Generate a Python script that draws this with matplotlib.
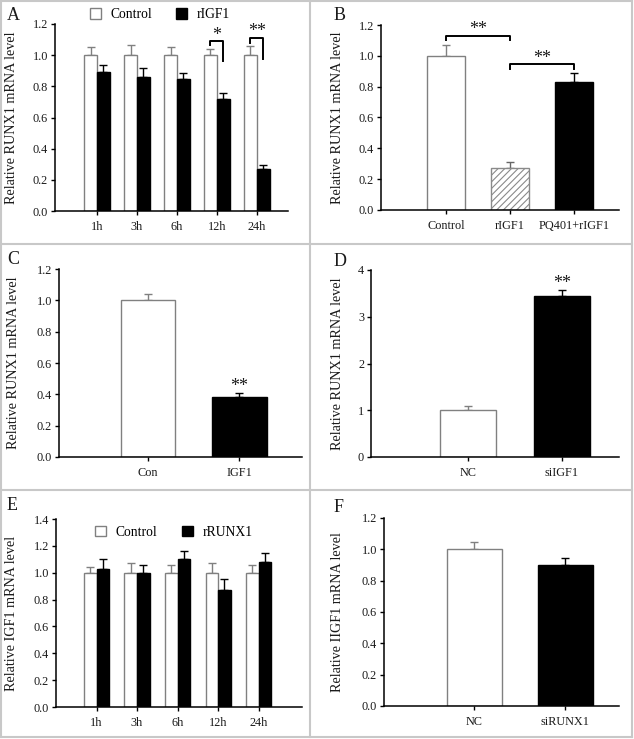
import numpy as np
import matplotlib
matplotlib.use('Agg')
import matplotlib.pyplot as plt
from matplotlib.patches import Patch
from matplotlib.lines import Line2D

plt.rcParams['font.family'] = ['Liberation Serif', 'DejaVu Serif']
plt.rcParams['hatch.linewidth'] = 0.8
plt.rcParams['hatch.color'] = '#8a8a8a'

# ---- data ----
time_labels = ['1h', '3h', '6h', '12h', '24h']

a_control = [1.0, 1.0, 1.0, 1.0, 1.0]
a_control_err = [0.055, 0.065, 0.055, 0.04, 0.06]
a_rigf1 = [0.89, 0.86, 0.85, 0.72, 0.27]
a_rigf1_err = [0.05, 0.055, 0.035, 0.035, 0.025]

b_labels = ['Control', 'rIGF1', 'PQ401+rIGF1']
b_values = [1.0, 0.27, 0.83]
b_err = [0.07, 0.04, 0.06]

c_labels = ['Con', 'IGF1']
c_values = [1.0, 0.38]
c_err = [0.04, 0.03]

d_labels = ['NC', 'siIGF1']
d_values = [1.0, 3.44]
d_err = [0.09, 0.13]

e_control = [1.0, 1.0, 1.0, 1.0, 1.0]
e_control_err = [0.045, 0.07, 0.06, 0.075, 0.055]
e_rrunx1 = [1.025, 0.995, 1.105, 0.875, 1.08]
e_rrunx1_err = [0.08, 0.06, 0.055, 0.08, 0.07]

f_labels = ['NC', 'siRUNX1']
f_values = [1.0, 0.90]
f_err = [0.05, 0.045]

W, H = 634, 739
fig = plt.figure(figsize=(W / 100, H / 100), dpi=100)

GRAY = '#808080'
TXT = '#1a1a1a'
STAR = 13


def make_ax(left, right, top, bottom):
    return fig.add_axes([left / W, 1 - bottom / H, (right - left) / W, (bottom - top) / H])


def style(ax, ylim, yticks, fmt, label, label_off, xlim):
    ax.set_xlim(*xlim)
    ax.set_ylim(*ylim)
    ax.set_yticks(yticks)
    ax.set_yticklabels([fmt.format(t) for t in yticks], fontsize=8.8, color=TXT)
    for s in ['top', 'right']:
        ax.spines[s].set_visible(False)
    for s in ['left', 'bottom']:
        ax.spines[s].set_linewidth(1.1)
    ax.tick_params(axis='y', direction='out', length=3, width=1, pad=2)
    ax.tick_params(axis='x', direction='out', length=3, width=1, pad=4, labelsize=8.8, labelcolor=TXT)
    ax.set_ylabel(label, fontsize=10.2, color=TXT)
    bbox = ax.get_position()
    ax.yaxis.set_label_coords(-label_off / (bbox.width * W), 0.5)


def ebar(ax, x, y, e, color):
    ax.errorbar(x, y, yerr=[[0] * len(e), e], fmt='none', ecolor=color,
                elinewidth=1, capsize=2.6, capthick=1, zorder=1)


def bracket(ax, x1, x2, y, y1, y2, stars, ty):
    ax.plot([x1, x1, x2, x2], [y1, y, y, y2], color='black', lw=1.4, clip_on=False)
    ax.text((x1 + x2) / 2, ty, stars, ha='center', va='center', fontsize=STAR, color=TXT)


# ---- A ----
ax = make_ax(55, 288, 24, 211)
g = np.arange(1, 6)
bw = 0.32
ebar(ax, g - bw / 2, a_control, a_control_err, GRAY)
ebar(ax, g + bw / 2, a_rigf1, a_rigf1_err, 'black')
ax.bar(g - bw / 2, a_control, bw, color='white', edgecolor=GRAY, lw=1, zorder=2)
ax.bar(g + bw / 2, a_rigf1, bw, color='black', edgecolor='black', lw=1, zorder=2)
ax.set_xticks(g)
ax.set_xticklabels(time_labels)
style(ax, (0, 1.2), np.arange(0, 1.21, 0.2), '{:.1f}', 'Relative RUNX1 mRNA level', 37, (-0.05, 5.78))
bracket(ax, 4 - bw / 2, 4 + bw / 2, 1.09, 1.065, 0.96, '*', 1.125)
bracket(ax, 5 - bw / 2, 5 + bw / 2, 1.11, 1.08, 0.975, '**', 1.15)
handles = [Patch(facecolor='white', edgecolor=GRAY, lw=1, label='Control'),
           Patch(facecolor='black', edgecolor='black', label='rIGF1')]
ax.legend(handles=handles, loc='center', bbox_to_anchor=(0.45, 1.05), ncol=2, frameon=False,
          fontsize=9.8, handlelength=0.8, handleheight=0.8, handletextpad=0.7, columnspacing=1.8)

# ---- B ----
ax = make_ax(381, 619, 25, 210)
xb = np.arange(1, 4)
ebar(ax, xb[:1], b_values[:1], b_err[:1], GRAY)
ebar(ax, xb[1:2], b_values[1:2], b_err[1:2], '#666666')
ebar(ax, xb[2:], b_values[2:], b_err[2:], 'black')
ax.bar(xb[0], b_values[0], 0.6, color='white', edgecolor=GRAY, lw=1, zorder=2)
ax.bar(xb[1], b_values[1], 0.6, color='white', edgecolor='#8a8a8a', hatch='/////', lw=1, zorder=2)
ax.bar(xb[2], b_values[2], 0.6, color='black', edgecolor='black', lw=1, zorder=2)
ax.set_xticks(xb)
ax.set_xticklabels(b_labels)
style(ax, (0, 1.2), np.arange(0, 1.21, 0.2), '{:.1f}', 'Relative RUNX1 mRNA level', 37, (-0.016, 3.70))
bracket(ax, 1, 2, 1.13, 1.10, 1.10, '**', 1.17)
bracket(ax, 2, 3, 0.95, 0.915, 0.915, '**', 0.985)

# ---- C ----
ax = make_ax(59, 302, 269, 457)
xc = np.arange(1, 3)
ebar(ax, xc[:1], c_values[:1], c_err[:1], GRAY)
ebar(ax, xc[1:], c_values[1:], c_err[1:], 'black')
ax.bar(xc[0], c_values[0], 0.6, color='white', edgecolor=GRAY, lw=1, zorder=2)
ax.bar(xc[1], c_values[1], 0.6, color='black', edgecolor='black', lw=1, zorder=2)
ax.set_xticks(xc)
ax.set_xticklabels(c_labels)
style(ax, (0, 1.2), np.arange(0, 1.21, 0.2), '{:.1f}', 'Relative RUNX1 mRNA level', 39, (0.02, 2.69))
ax.text(2, 0.45, '**', ha='center', va='center', fontsize=STAR, color=TXT)

# ---- D ----
ax = make_ax(371, 619, 270, 457)
ebar(ax, xc[:1], d_values[:1], d_err[:1], GRAY)
ebar(ax, xc[1:], d_values[1:], d_err[1:], 'black')
ax.bar(xc[0], d_values[0], 0.6, color='white', edgecolor=GRAY, lw=1, zorder=2)
ax.bar(xc[1], d_values[1], 0.6, color='black', edgecolor='black', lw=1, zorder=2)
ax.set_xticks(xc)
ax.set_xticklabels(d_labels)
style(ax, (0, 4), np.arange(0, 5), '{:d}', 'Relative RUNX1 mRNA level', 27, (-0.03, 2.61))
ax.text(2, 3.71, '**', ha='center', va='center', fontsize=STAR, color=TXT)

# ---- E ----
ax = make_ax(56, 302, 519, 707)
bw = 0.31
ebar(ax, g - bw / 2, e_control, e_control_err, GRAY)
ebar(ax, g + bw / 2, e_rrunx1, e_rrunx1_err, 'black')
ax.bar(g - bw / 2, e_control, bw, color='white', edgecolor=GRAY, lw=1, zorder=2)
ax.bar(g + bw / 2, e_rrunx1, bw, color='black', edgecolor='black', lw=1, zorder=2)
ax.set_xticks(g)
ax.set_xticklabels(time_labels)
style(ax, (0, 1.4), np.arange(0, 1.41, 0.2), '{:.1f}', 'Relative IGF1 mRNA level', 38, (0, 6.07))
handles = [Patch(facecolor='white', edgecolor=GRAY, lw=1, label='Control'),
           Patch(facecolor='black', edgecolor='black', label='rRUNX1')]
ax.legend(handles=handles, loc='center', bbox_to_anchor=(0.48, 0.93), ncol=2, frameon=False,
          fontsize=9.8, handlelength=0.8, handleheight=0.8, handletextpad=0.7, columnspacing=1.8)

# ---- F ----
ax = make_ax(384, 619, 518, 706)
ebar(ax, xc[:1], f_values[:1], f_err[:1], GRAY)
ebar(ax, xc[1:], f_values[1:], f_err[1:], 'black')
ax.bar(xc[0], f_values[0], 0.6, color='white', edgecolor=GRAY, lw=1, zorder=2)
ax.bar(xc[1], f_values[1], 0.6, color='black', edgecolor='black', lw=1, zorder=2)
ax.set_xticks(xc)
ax.set_xticklabels(f_labels)
style(ax, (0, 1.2), np.arange(0, 1.21, 0.2), '{:.1f}', 'Relative IIGF1 mRNA level', 40, (0.01, 2.59))

# ---- panel letters and frame ----
for letter, (px, py) in zip('ABCDEF', [(7, 16), (334, 16), (7, 259), (334, 262), (7, 506), (334, 507)]):
    fig.text(px / W, 1 - py / H, letter, fontsize=13, color=TXT, ha='left', va='center')

fc = '#c8c8c8'
frame = [([1, W - 2], [1, 1]), ([1, W - 2], [H - 2, H - 2]), ([1, 1], [1, H - 2]),
         ([W - 2, W - 2], [1, H - 2]), ([310, 310], [1, H - 2]),
         ([1, W - 2], [244, 244]), ([1, W - 2], [490, 490])]
for xs, ys in frame:
    fig.add_artist(Line2D([x / W for x in xs], [1 - y / H for y in ys], color=fc, lw=1.5))

fig.savefig('out.png', dpi=100)
